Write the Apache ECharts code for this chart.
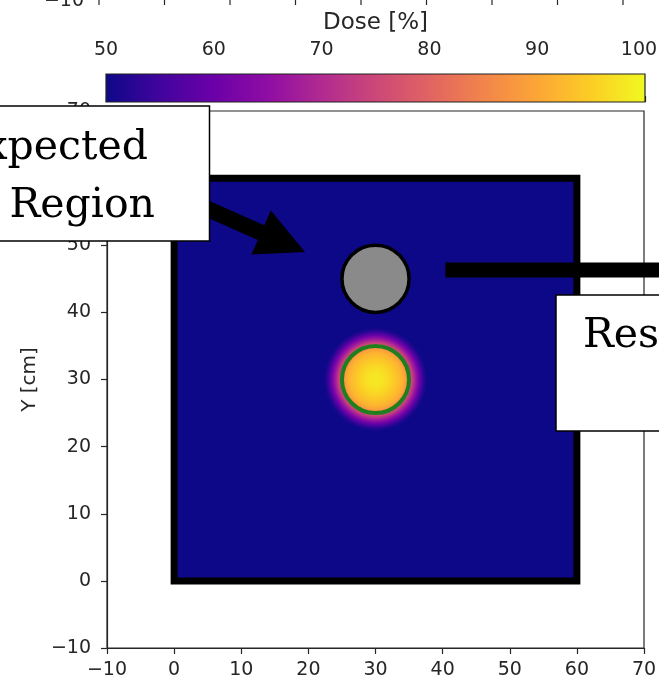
<!DOCTYPE html>
<html><head><meta charset="utf-8">
<script src="https://cdn.jsdelivr.net/npm/echarts@6/dist/echarts.min.js"></script>
<style>html,body{margin:0;padding:0;background:#fff;overflow:hidden}#c{width:659px;height:684px}</style>
</head><body><div id="c"></div>
<script>
// ---------- data ----------
const xTicks = [-10, 0, 10, 20, 30, 40, 50, 60, 70];
const yTicks = [-10, 0, 10, 20, 30, 40, 50, 60, 70];
const doseTicks = [50, 60, 70, 80, 90, 100];
const plasmaColors = ['#0d0887','#41049d','#6a00a8','#8f0da4','#b12a90','#cc4778','#e16462','#f2844b','#fca636','#fcce25','#f0f921'];
// phantom (square) : x-range, y-range, background dose
const phantomX = [0, 60];
const phantomY = [0, 60];
const phantomDose = [50];
// hot spot radial dose profile around its centre
const hotspotCenter = [30, 30];
const hotspotRadius = [0, 1, 2, 3, 4, 4.5, 5, 5.3, 5.7, 6.1, 6.5, 6.9, 7.3, 7.7];
const hotspotDose   = [98, 97.5, 96, 94, 91.5, 89, 83, 76, 71, 66, 61, 56, 52, 50];
// contours: [cx, cy, r]
const targetContour = [30, 30, 5];
const expectedRegion = [30, 45, 5];
// annotations (data coordinates)
const expectedBox = [-27.4, 5.27, 50.63, 70.74];   // x0,x1,y0,y1
const expectedText = ['Expected', 'Region'];
const expectedTextPos = [[-3.89, 64.4], [-2.85, 55.8]];
const arrowTail = [-3.6, 59.2];
const arrowTip = [19.5, 49.0];
const resultLine = [[40.42, 46.31], [80, 46.31]];
const resultBox = [56.89, 80, 22.33, 42.59];
const resultText = ['Resulting'];
const resultTextPos = [[60.91, 36.4]];

function plasma(v) { return echarts.color.lerp(Math.max(0, Math.min(1, (v - 50) / 50)), plasmaColors); }
const fmt = v => String(v).replace('-', '\u2212');
const AX = '#262626';
const FONT = 'DejaVu Sans';
const SERIF = '41px "DejaVu Serif"';

const chart = echarts.init(document.getElementById('c'), null, {renderer: 'canvas'});

function axisCommon(extra) {
  return Object.assign({
    type: 'value', min: -10, max: 70, interval: 10,
    splitLine: {show: false},
    axisLine: {show: true, onZero: false, lineStyle: {color: AX, width: 1.2}},
    axisTick: {show: true, length: 6, lineStyle: {color: AX, width: 1.2}},
    axisLabel: {color: AX, fontSize: 19, fontFamily: FONT, formatter: fmt}
  }, extra);
}

const option = {
  animation: false,
  backgroundColor: '#fff',
  grid: [
    {left: 107, top: 111, width: 537, height: 537, show: true, borderColor: AX, borderWidth: 1.2, backgroundColor: 'transparent', containLabel: false, outerBoundsMode: 'none'},
    {left: 106, top: 74, width: 539, height: 28, show: false, containLabel: false, outerBoundsMode: 'none'}
  ],
  xAxis: [
    axisCommon({gridIndex: 0, position: 'bottom', axisLabel: {color: AX, fontSize: 19, fontFamily: FONT, formatter: fmt, margin: 13}}),
    {type: 'value', gridIndex: 1, min: 50, max: 100, interval: 10, position: 'top',
     name: 'Dose [%]', nameLocation: 'middle', nameGap: 39,
     nameTextStyle: {color: AX, fontSize: 23, fontFamily: FONT},
     splitLine: {show: false},
     axisLine: {show: false},
     axisTick: {show: true, length: 6, lineStyle: {color: AX, width: 1.2}},
     axisLabel: {color: AX, fontSize: 19, fontFamily: FONT, margin: 14,
       formatter: v => v === 100 ? '{r|' + v + '}' : String(v),
       rich: {r: {color: AX, fontSize: 19, fontFamily: FONT, padding: [0, 12, 0, 0]}}}}
  ],
  yAxis: [
    axisCommon({gridIndex: 0, name: 'Y [cm]', nameLocation: 'middle', nameGap: 65,
      nameTextStyle: {color: AX, fontSize: 20, fontFamily: FONT},
      axisLabel: {color: AX, fontSize: 19, fontFamily: FONT, formatter: fmt, margin: 16}}),
    {type: 'value', gridIndex: 1, min: 0, max: 1, show: false}
  ],
  series: [
    // colorbar
    {
      type: 'custom', xAxisIndex: 1, yAxisIndex: 1, clip: false, z: 2,
      data: [[doseTicks[0], doseTicks[doseTicks.length - 1]]],
      encode: {x: [0, 1]},
      renderItem: (params, api) => {
        const a = api.coord([api.value(0), 1]);
        const b = api.coord([api.value(1), 0]);
        const stops = plasmaColors.map((c, i) => ({offset: i / (plasmaColors.length - 1), color: c}));
        return {type: 'rect', shape: {x: a[0], y: a[1], width: b[0] - a[0], height: b[1] - a[1]},
          style: {fill: new echarts.graphic.LinearGradient(0, 0, 1, 0, stops), stroke: '#222', lineWidth: 1.2}};
      }
    },
    // phantom background dose
    {
      type: 'custom', xAxisIndex: 0, yAxisIndex: 0, clip: false, z: 2,
      data: [[phantomX[0], phantomX[1], phantomY[0], phantomY[1], phantomDose[0]]],
      encode: {x: [0, 1], y: [2, 3]},
      renderItem: (params, api) => {
        const a = api.coord([api.value(0), api.value(3)]);
        const b = api.coord([api.value(1), api.value(2)]);
        return {type: 'rect', shape: {x: a[0], y: a[1], width: b[0] - a[0], height: b[1] - a[1]},
          style: {fill: plasma(api.value(4)), stroke: '#000', lineWidth: 7}};
      }
    },
    // hot spot
    {
      type: 'custom', xAxisIndex: 0, yAxisIndex: 0, clip: false, z: 3,
      data: [[hotspotCenter[0], hotspotCenter[1]]],
      encode: {x: 0, y: 1},
      renderItem: (params, api) => {
        const c = api.coord([api.value(0), api.value(1)]);
        const rMax = hotspotRadius[hotspotRadius.length - 1];
        const R = api.size([rMax, 0])[0];
        const stops = hotspotRadius.map((r, i) => ({offset: r / rMax, color: plasma(hotspotDose[i])}));
        return {type: 'circle', shape: {cx: c[0], cy: c[1], r: R},
          style: {fill: new echarts.graphic.RadialGradient(0.5, 0.5, 0.5, stops)}};
      }
    },
    // target contour (green)
    {
      type: 'custom', xAxisIndex: 0, yAxisIndex: 0, clip: false, z: 4,
      data: [targetContour],
      encode: {x: 0, y: 1},
      renderItem: (params, api) => {
        const c = api.coord([api.value(0), api.value(1)]);
        const R = api.size([api.value(2), 0])[0];
        return {type: 'circle', shape: {cx: c[0], cy: c[1], r: R},
          style: {fill: null, stroke: '#1f7f1f', lineWidth: 4}};
      }
    },
    // expected region (grey)
    {
      type: 'custom', xAxisIndex: 0, yAxisIndex: 0, clip: false, z: 4,
      data: [expectedRegion],
      encode: {x: 0, y: 1},
      renderItem: (params, api) => {
        const c = api.coord([api.value(0), api.value(1)]);
        const R = api.size([api.value(2), 0])[0];
        return {type: 'circle', shape: {cx: c[0], cy: c[1], r: R},
          style: {fill: '#8a8a8a', stroke: '#000', lineWidth: 3.5}};
      }
    },
    // annotations
    {
      type: 'custom', xAxisIndex: 0, yAxisIndex: 0, clip: false, z: 10,
      data: [[0, 0]],
      encode: {x: 0, y: 1},
      renderItem: (params, api) => {
        const children = [];
        const l0 = api.coord(resultLine[0]), l1 = api.coord(resultLine[1]);
        children.push({type: 'rect', shape: {x: l0[0], y: l0[1] - 7.5, width: l1[0] - l0[0], height: 15}, style: {fill: '#000'}});
        const r0 = api.coord([resultBox[0], resultBox[3]]), r1 = api.coord([resultBox[1], resultBox[2]]);
        children.push({type: 'rect', shape: {x: r0[0], y: r0[1], width: r1[0] - r0[0], height: r1[1] - r0[1]},
          style: {fill: '#fff', stroke: '#000', lineWidth: 1.5}});
        resultText.forEach((t, i) => {
          const p = api.coord(resultTextPos[i]);
          children.push({type: 'text', x: p[0], y: p[1], style: {text: t, font: SERIF, fill: '#000', align: 'left', verticalAlign: 'middle'}});
        });
        const t0 = api.coord(arrowTail), t1 = api.coord(arrowTip);
        const dx = t1[0] - t0[0], dy = t1[1] - t0[1], L = Math.hypot(dx, dy);
        const ux = dx / L, uy = dy / L, nx = -uy, ny = ux;
        const hl = 48, hw = 24, sw = 8;
        const bx = t1[0] - ux * hl, by = t1[1] - uy * hl;
        children.push({type: 'polygon', shape: {points: [
          [t0[0] + nx * sw, t0[1] + ny * sw], [bx + nx * sw, by + ny * sw], [bx + nx * hw, by + ny * hw],
          [t1[0], t1[1]], [bx - nx * hw, by - ny * hw], [bx - nx * sw, by - ny * sw], [t0[0] - nx * sw, t0[1] - ny * sw]
        ]}, style: {fill: '#000'}});
        const e0 = api.coord([expectedBox[0], expectedBox[3]]), e1 = api.coord([expectedBox[1], expectedBox[2]]);
        children.push({type: 'rect', shape: {x: e0[0], y: e0[1], width: e1[0] - e0[0], height: e1[1] - e0[1]},
          style: {fill: '#fff', stroke: '#000', lineWidth: 1.5}});
        expectedText.forEach((t, i) => {
          const p = api.coord(expectedTextPos[i]);
          children.push({type: 'text', x: p[0], y: p[1], style: {text: t, font: SERIF, fill: '#000', align: 'right', verticalAlign: 'middle'}});
        });
        return {type: 'group', children};
      }
    }
  ],
  graphic: [
    {type: 'text', x: 84, y: 11, style: {text: '\u221210', font: '19px "DejaVu Sans"', fill: AX, align: 'right', verticalAlign: 'bottom'}}
  ].concat(xTicks.map((v, i) => ({type: 'line', shape: {x1: 99 + 65.5 * i, y1: 0, x2: 99 + 65.5 * i, y2: 5}, style: {stroke: AX, lineWidth: 1.2}})))
};
chart.setOption(option);
</script>
</body></html>
